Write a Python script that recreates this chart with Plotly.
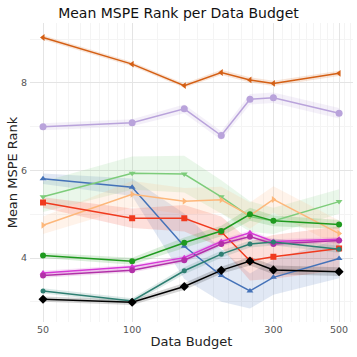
# Mean MSPE rank per data budget, line chart with confidence bands
import numpy as np
import plotly.graph_objects as go

budget = [50, 100, 150, 200, 250, 300, 500]

# mean rank and half-width of the band, per method
rank_orange = [9.04, 8.43, 7.94, 8.24, 8.07, 7.99, 8.22]
ci_orange = [0.05, 0.05, 0.05, 0.06, 0.06, 0.06, 0.06]
rank_lavender = [7.00, 7.09, 7.41, 6.80, 7.63, 7.66, 7.31]
ci_lavender = [0.08, 0.08, 0.10, 0.10, 0.12, 0.12, 0.12]
rank_blue = [5.81, 5.62, 4.27, 3.60, 3.25, 3.56, 3.99]
ci_blue = [0.12, 0.20, 0.75, 0.60, 0.40, 0.40, 0.45]
rank_lgreen = [5.40, 5.94, 5.92, 5.40, 4.95, 4.85, 5.29]
ci_lgreen = [0.35, 0.38, 0.42, 0.38, 0.35, 0.30, 0.28]
rank_peach = [4.75, 5.46, 5.30, 5.33, 4.97, 5.34, 4.56]
ci_peach = [0.20, 0.30, 0.30, 0.30, 0.30, 0.30, 0.30]
rank_red = [5.27, 4.91, 4.91, 4.60, 3.94, 4.03, 4.22]
ci_red = [0.12, 0.22, 0.30, 0.35, 0.45, 0.50, 0.50]
rank_dgreen = [4.06, 3.93, 4.35, 4.62, 5.00, 4.85, 4.77]
ci_dgreen = [0.06, 0.08, 0.12, 0.12, 0.15, 0.12, 0.10]
rank_mag1 = [3.66, 3.80, 4.01, 4.38, 4.58, 4.38, 4.43]
ci_mag1 = [0.05, 0.05, 0.05, 0.05, 0.05, 0.05, 0.05]
rank_mag2 = [3.60, 3.72, 3.95, 4.32, 4.49, 4.32, 4.40]
ci_mag2 = [0.05, 0.05, 0.05, 0.05, 0.05, 0.05, 0.05]
rank_teal = [3.25, 3.02, 3.71, 4.09, 4.32, 4.37, 4.20]
ci_teal = [0.06, 0.06, 0.08, 0.08, 0.08, 0.08, 0.08]
rank_black = [3.06, 2.99, 3.35, 3.72, 3.93, 3.73, 3.69]
ci_black = [0.06, 0.06, 0.08, 0.08, 0.10, 0.10, 0.10]

x_ticks = [50, 100, 300, 500]
y_ticks = [4, 6, 8]

# (name, rank, ci, colour, marker symbol, marker size)
series = [
    ("A", rank_orange, ci_orange, (212, 95, 20), "triangle-left", 6),
    ("B", rank_lavender, ci_lavender, (185, 163, 219), "circle", 7),
    ("C", rank_blue, ci_blue, (68, 114, 184), "triangle-up", 6),
    ("D", rank_lgreen, ci_lgreen, (125, 204, 122), "triangle-down", 6),
    ("E", rank_peach, ci_peach, (253, 183, 122), "triangle-right", 6),
    ("F", rank_red, ci_red, (240, 58, 30), "square", 6),
    ("G", rank_dgreen, ci_dgreen, (31, 154, 31), "circle", 6),
    ("H", rank_mag1, ci_mag1, (214, 58, 214), "triangle-up", 6),
    ("I", rank_mag2, ci_mag2, (178, 48, 168), "circle", 6),
    ("J", rank_teal, ci_teal, (46, 127, 114), "circle", 5),
    ("K", rank_black, ci_black, (0, 0, 0), "diamond", 7),
]

fig = go.Figure()

# bands first
for name, r, ci, c, sym, sz in series:
    hi = [a + b for a, b in zip(r, ci)]
    lo = [a - b for a, b in zip(r, ci)]
    fig.add_trace(go.Scatter(x=budget + budget[::-1], y=hi + lo[::-1], mode="none", fill="toself",
                             fillcolor="rgba(%d,%d,%d,0.16)" % c,
                             hoverinfo="skip", showlegend=False))

for name, r, ci, c, sym, sz in series:
    fig.add_trace(go.Scatter(x=budget, y=r, mode="lines+markers", name=name,
                             line=dict(color="rgb(%d,%d,%d)" % c, width=1.5),
                             marker=dict(symbol=sym, size=sz, color="rgb(%d,%d,%d)" % c),
                             showlegend=False))

# minor grid: 9 linear intervals between major ticks
minor_x = []
for a, b in zip(x_ticks[:-1], x_ticks[1:]):
    minor_x += list(np.linspace(a, b, 10)[1:-1])
minor_x += [50 - (100 - 50) / 9] + [500 + (500 - 300) / 9 * k for k in (1, 2)]

fig.update_layout(
    width=357, height=357,
    margin=dict(l=30, r=4, t=23, b=35, autoexpand=False),
    paper_bgcolor="white", plot_bgcolor="white",
    font=dict(family="DejaVu Sans", color="#222222"),
    title=dict(text="Mean MSPE Rank per Data Budget", x=0.5, xanchor="center",
               y=0.978, yanchor="top", font=dict(size=14, color="#111111")),
    xaxis=dict(type="log", range=[np.log10(50) - 0.044, np.log10(50) + 1.047],
               tickvals=x_ticks, ticktext=[str(v) for v in x_ticks],
               tickfont=dict(size=9.5, color="#555555"), ticks="", ticklabelstandoff=0,
               showgrid=True, gridcolor="#e4e4e4", gridwidth=1, zeroline=False, showline=False,
               minor=dict(tickvals=minor_x, showgrid=True, gridcolor="#f4f4f4", ticks=""),
               title=dict(text="Data Budget", font=dict(size=13), standoff=3)),
    yaxis=dict(range=[2.54, 9.37], tickvals=y_ticks, ticktext=[str(v) for v in y_ticks],
               tickfont=dict(size=9.5, color="#555555"), ticks="", ticklabelstandoff=2,
               showgrid=True, gridcolor="#e4e4e4", gridwidth=1, zeroline=False, showline=False,
               minor=dict(tickvals=[3, 5, 7, 9], showgrid=True, gridcolor="#f4f4f4", ticks=""),
               title=dict(text="Mean MSPE Rank", font=dict(size=13), standoff=0)),
)

# the page's default body margin shifts the figure by 8px, drop it
fig.write_html("out.html", config={"displayModeBar": False},
               post_script="document.body.style.margin='0';")
